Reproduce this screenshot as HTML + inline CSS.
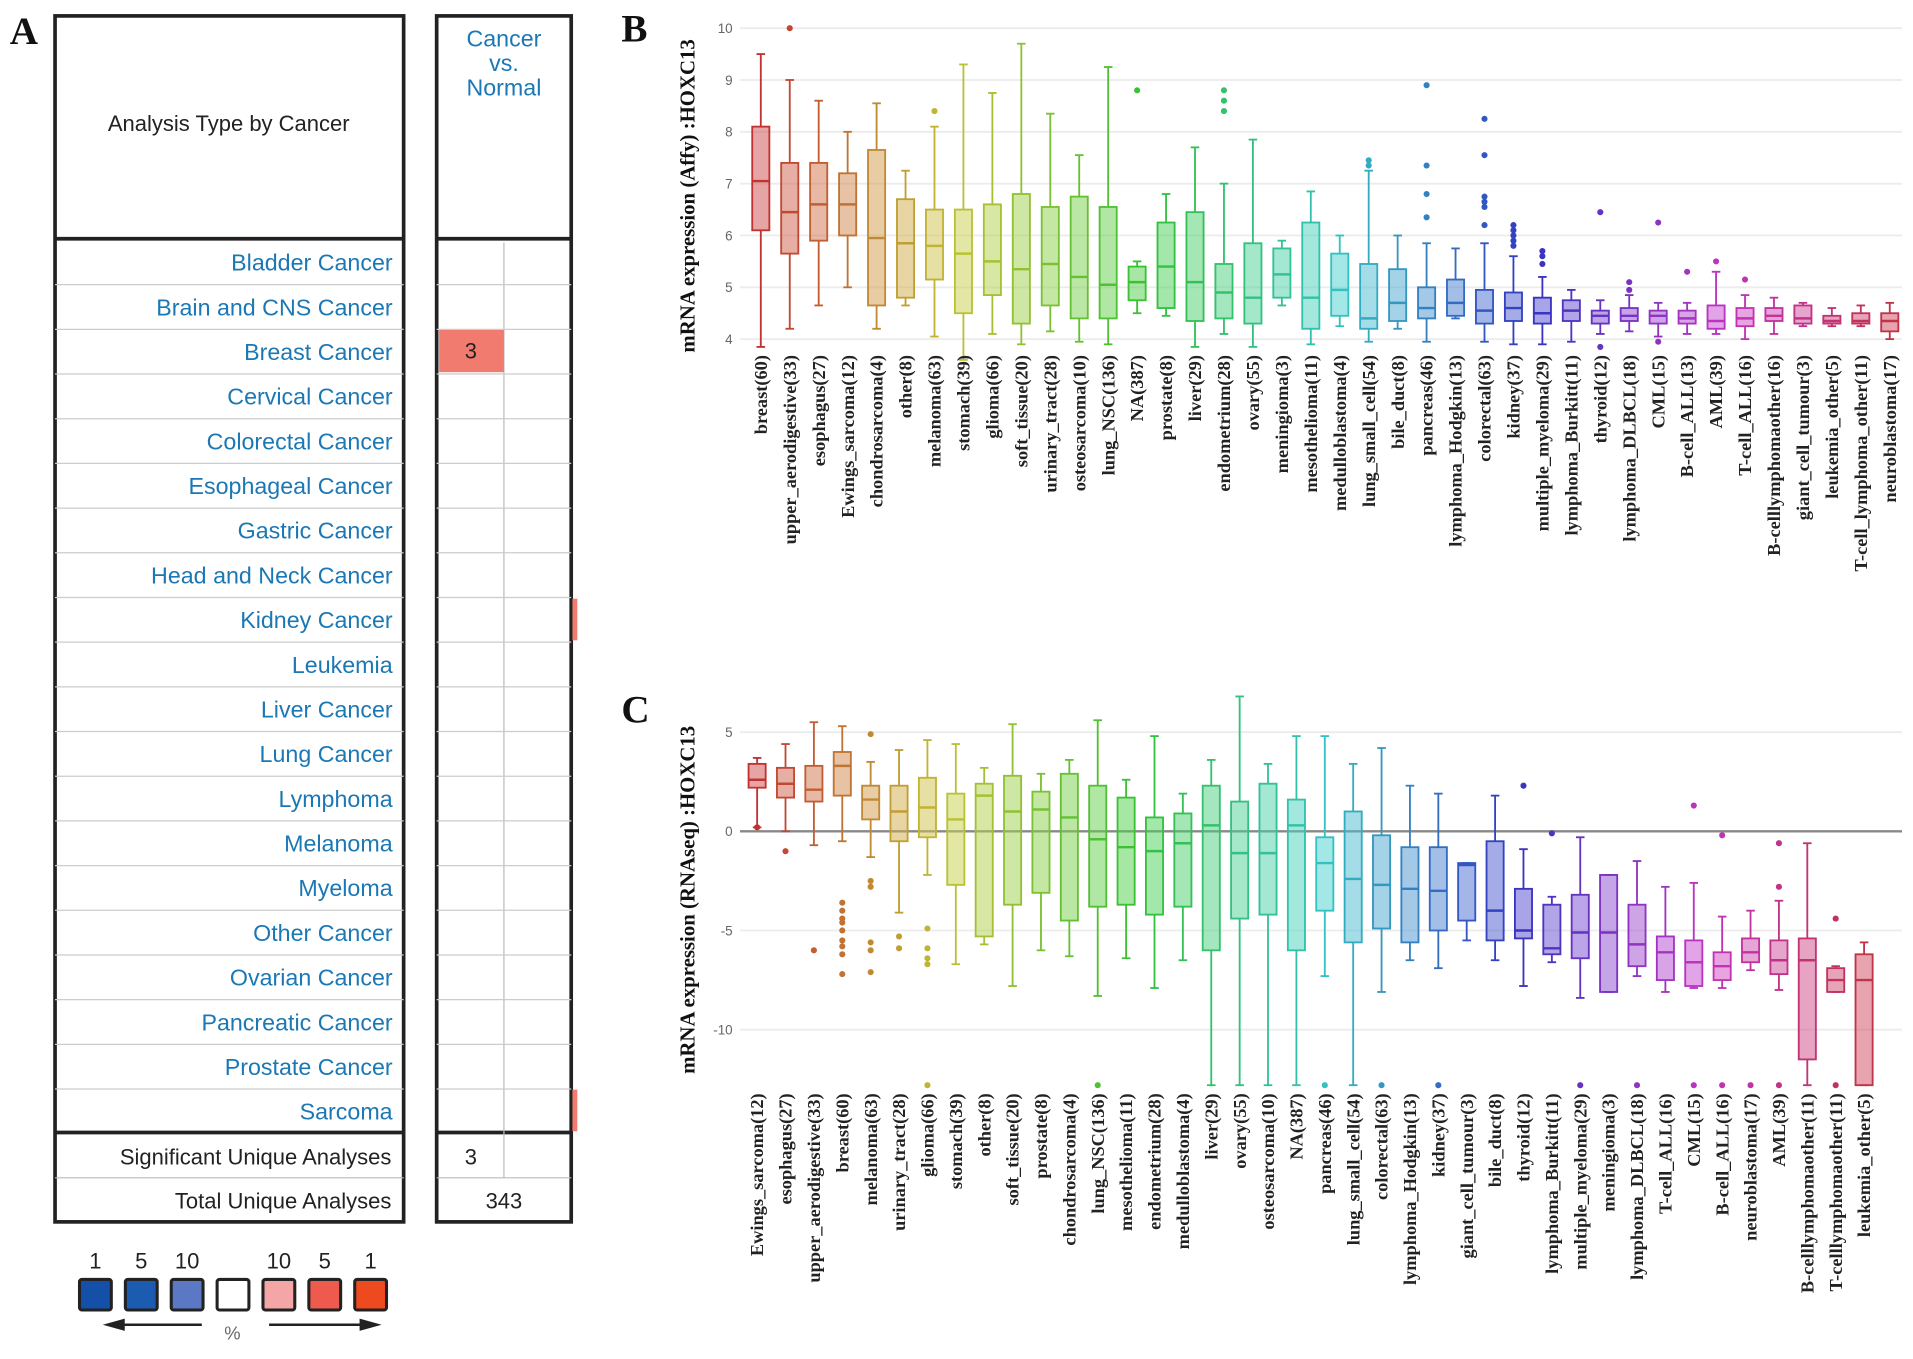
<!DOCTYPE html>
<html><head><meta charset="utf-8"><style>
html,body{margin:0;padding:0;background:#fff;}
svg{display:block;}
.cl{font-family:"Liberation Sans",sans-serif;font-size:19px;fill:#1b78b4;}
.xl{font-family:"Liberation Serif",serif;font-weight:bold;font-size:15px;fill:#222;}
.tk{font-family:"Liberation Sans",sans-serif;font-size:11px;fill:#666;}
.yt{font-family:"Liberation Serif",serif;font-weight:bold;font-size:17px;fill:#111;}
.pl{font-family:"Liberation Serif",serif;font-weight:bold;font-size:32px;fill:#111;}
.tb{font-family:"Liberation Sans",sans-serif;font-size:18px;fill:#222;}
</style></head><body>
<svg id="fig" width="1913" height="1359" viewBox="0 0 1564 1110" preserveAspectRatio="none" xmlns="http://www.w3.org/2000/svg">
<g id="panelA">
<text class="pl" x="8" y="36">A</text>
<rect x="45" y="13" width="285" height="985" fill="none" stroke="#222" stroke-width="3"/>
<rect x="357" y="13" width="110" height="985" fill="none" stroke="#222" stroke-width="3"/>
<line x1="45" y1="195" x2="330" y2="195" stroke="#222" stroke-width="3"/>
<line x1="357" y1="195" x2="467" y2="195" stroke="#222" stroke-width="3"/>
<line x1="45" y1="925" x2="330" y2="925" stroke="#222" stroke-width="3"/>
<line x1="357" y1="925" x2="467" y2="925" stroke="#222" stroke-width="3"/>
<line x1="412" y1="198" x2="412" y2="962" stroke="#bbb" stroke-width="1"/>
<text x="187" y="107" text-anchor="middle" class="tb">Analysis Type by Cancer</text>
<text x="412" y="38" text-anchor="middle" class="cl">Cancer</text>
<text x="412" y="58" text-anchor="middle" class="cl">vs.</text>
<text x="412" y="78" text-anchor="middle" class="cl">Normal</text>
<rect x="359" y="269" width="53" height="35" fill="#f27b70"/>
<text x="385" y="293" text-anchor="middle" class="tb">3</text>
<rect x="468" y="489" width="4" height="34" fill="#f27b70"/>
<rect x="468" y="890" width="4" height="34" fill="#f27b70"/>
<line x1="45" y1="962" x2="330" y2="962" stroke="#bbb"/>
<line x1="357" y1="962" x2="467" y2="962" stroke="#bbb"/>
<text x="320" y="951" text-anchor="end" class="tb">Significant Unique Analyses</text>
<text x="385" y="951" text-anchor="middle" class="tb">3</text>
<text x="320" y="987" text-anchor="end" class="tb">Total Unique Analyses</text>
<text x="412" y="987" text-anchor="middle" class="tb">343</text>
<g id="rows"></g>
<g>
<g id="legbox"></g>
<line x1="100" y1="1082" x2="165" y2="1082" stroke="#222" stroke-width="2"/>
<polygon points="84,1082 102,1077 102,1087" fill="#222"/>
<line x1="220" y1="1082" x2="295" y2="1082" stroke="#222" stroke-width="2"/>
<polygon points="312,1082 294,1077 294,1087" fill="#222"/>
<text x="190" y="1094" text-anchor="middle" class="tb" style="font-size:15px;fill:#666">%</text>
</g>
</g>
<g id="panelB">
<text class="pl" x="508" y="34">B</text>
<text class="yt" transform="translate(568,160) rotate(-90)" text-anchor="middle">mRNA expression (Affy) :HOXC13</text>
</g>
<g id="panelC">
<text class="pl" x="508" y="590">C</text>
<text class="yt" transform="translate(568,735) rotate(-90)" text-anchor="middle">mRNA expression (RNAseq) :HOXC13</text>
</g>
</svg>
<script>
const NS="http://www.w3.org/2000/svg";
const cancers=["Bladder Cancer","Brain and CNS Cancer","Breast Cancer","Cervical Cancer","Colorectal Cancer","Esophageal Cancer","Gastric Cancer","Head and Neck Cancer","Kidney Cancer","Leukemia","Liver Cancer","Lung Cancer","Lymphoma","Melanoma","Myeloma","Other Cancer","Ovarian Cancer","Pancreatic Cancer","Prostate Cancer","Sarcoma"];
const legendLabels=["1","5","10","","10","5","1"];
const legendColors=["#1550a8","#1b5cb0","#5a78c4","#ffffff","#f4a6a6","#ee5a4e","#ee4a20"];

const catsB=["breast(60)","upper_aerodigestive(33)","esophagus(27)","Ewings_sarcoma(12)","chondrosarcoma(4)","other(8)","melanoma(63)","stomach(39)","glioma(66)","soft_tissue(20)","urinary_tract(28)","osteosarcoma(10)","lung_NSC(136)","NA(387)","prostate(8)","liver(29)","endometrium(28)","ovary(55)","meningioma(3)","mesothelioma(11)","medulloblastoma(4)","lung_small_cell(54)","bile_duct(8)","pancreas(46)","lymphoma_Hodgkin(13)","colorectal(63)","kidney(37)","multiple_myeloma(29)","lymphoma_Burkitt(11)","thyroid(12)","lymphoma_DLBCL(18)","CML(15)","B-cell_ALL(13)","AML(39)","T-cell_ALL(16)","B-celllymphomaother(16)","giant_cell_tumour(3)","leukemia_other(5)","T-cell_lymphoma_other(11)","neuroblastoma(17)"];
const boxesB=[[3.85,6.1,7.05,8.1,9.5],[4.2,5.65,6.45,7.4,9.0],[4.65,5.9,6.6,7.4,8.6],[5.0,6.0,6.6,7.2,8.0],[4.2,4.65,5.95,7.65,8.55],[4.65,4.8,5.85,6.7,7.25],[4.05,5.15,5.8,6.5,8.1],[3.6,4.5,5.65,6.5,9.3],[4.1,4.85,5.5,6.6,8.75],[3.9,4.3,5.35,6.8,9.7],[4.15,4.65,5.45,6.55,8.35],[3.95,4.4,5.2,6.75,7.55],[3.9,4.4,5.05,6.55,9.25],[4.5,4.75,5.1,5.4,5.5],[4.45,4.6,5.4,6.25,6.8],[3.85,4.35,5.1,6.45,7.7],[4.1,4.4,4.9,5.45,7.0],[3.85,4.3,4.8,5.85,7.85],[4.65,4.8,5.25,5.75,5.9],[3.9,4.2,4.8,6.25,6.85],[4.25,4.45,4.95,5.65,6.0],[3.95,4.2,4.4,5.45,7.25],[4.2,4.35,4.7,5.35,6.0],[3.95,4.4,4.6,5.0,5.85],[4.4,4.45,4.7,5.15,5.75],[3.95,4.3,4.55,4.95,5.85],[3.9,4.35,4.6,4.9,5.6],[3.9,4.3,4.5,4.8,5.2],[3.95,4.35,4.55,4.75,4.95],[4.1,4.3,4.45,4.55,4.75],[4.15,4.35,4.45,4.6,4.85],[4.05,4.3,4.45,4.55,4.7],[4.1,4.3,4.4,4.55,4.7],[4.1,4.2,4.35,4.65,5.3],[4.0,4.25,4.4,4.6,4.85],[4.1,4.35,4.45,4.6,4.8],[4.25,4.3,4.4,4.65,4.7],[4.25,4.3,4.35,4.45,4.6],[4.25,4.3,4.35,4.5,4.65],[4.0,4.15,4.35,4.5,4.7]];
const outliersB=[[],[10.0],[],[],[],[],[8.4],[],[],[],[],[],[],[8.8],[],[],[8.4,8.6,8.8],[],[],[],[],[7.35,7.45],[],[6.35,6.8,7.35,8.9],[],[6.2,6.55,6.65,6.75,7.55,8.25],[5.8,5.9,6.0,6.1,6.2],[5.45,5.6,5.7],[],[3.85,6.45],[4.95,5.1],[3.95,6.25],[5.3],[5.5],[5.15],[],[],[],[],[]];
const ticksB=[4,5,6,7,8,9,10];

const catsC=["Ewings_sarcoma(12)","esophagus(27)","upper_aerodigestive(33)","breast(60)","melanoma(63)","urinary_tract(28)","glioma(66)","stomach(39)","other(8)","soft_tissue(20)","prostate(8)","chondrosarcoma(4)","lung_NSC(136)","mesothelioma(11)","endometrium(28)","medulloblastoma(4)","liver(29)","ovary(55)","osteosarcoma(10)","NA(387)","pancreas(46)","lung_small_cell(54)","colorectal(63)","lymphoma_Hodgkin(13)","kidney(37)","giant_cell_tumour(3)","bile_duct(8)","thyroid(12)","lymphoma_Burkitt(11)","multiple_myeloma(29)","meningioma(3)","lymphoma_DLBCL(18)","T-cell_ALL(16)","CML(15)","B-cell_ALL(16)","neuroblastoma(17)","AML(39)","B-celllymphomaother(11)","T-celllymphomaother(11)","leukemia_other(5)"];
const boxesC=[[0.2,2.2,2.6,3.4,3.7],[0,1.7,2.4,3.2,4.4],[-0.7,1.5,2.1,3.3,5.5],[-0.5,1.8,3.3,4.0,5.3],[-1.3,0.6,1.6,2.3,3.5],[-4.1,-0.5,1.0,2.3,4.1],[-2.2,-0.3,1.2,2.7,4.6],[-6.7,-2.7,0.6,1.9,4.4],[-5.7,-5.3,1.8,2.4,3.2],[-7.8,-3.7,1.0,2.8,5.4],[-6.0,-3.1,1.1,2.0,2.9],[-6.3,-4.5,0.7,2.9,3.6],[-8.3,-3.8,-0.4,2.3,5.6],[-6.4,-3.7,-0.8,1.7,2.6],[-7.9,-4.2,-1.0,0.7,4.8],[-6.5,-3.8,-0.6,0.9,1.9],[-12.8,-6.0,0.3,2.3,3.6],[-12.8,-4.4,-1.1,1.5,6.8],[-12.8,-4.2,-1.1,2.4,3.4],[-12.8,-6.0,0.3,1.6,4.8],[-7.3,-4.0,-1.6,-0.3,4.8],[-12.8,-5.6,-2.4,1.0,3.4],[-8.1,-4.9,-2.7,-0.2,4.2],[-6.5,-5.6,-2.9,-0.8,2.3],[-6.9,-5.0,-3.0,-0.8,1.9],[-5.5,-4.5,-1.7,-1.6,-1.6],[-6.5,-5.5,-4.0,-0.5,1.8],[-7.8,-5.4,-5.0,-2.9,-0.9],[-6.6,-6.2,-5.9,-3.7,-3.3],[-8.4,-6.4,-5.1,-3.2,-0.3],[-8.1,-8.1,-5.1,-2.2,-2.2],[-7.3,-6.8,-5.7,-3.7,-1.5],[-8.1,-7.5,-6.1,-5.3,-2.8],[-7.9,-7.8,-6.6,-5.5,-2.6],[-7.9,-7.5,-6.8,-6.1,-4.3],[-7.0,-6.6,-6.1,-5.4,-4.0],[-8.0,-7.2,-6.5,-5.5,-3.5],[-12.8,-11.5,-6.5,-5.4,-0.6],[-8.1,-8.1,-7.5,-6.9,-6.8],[-12.8,-12.8,-7.5,-6.2,-5.6]];
const outliersC=[[0.2],[-1.0],[-6.0],[-3.6,-4.0,-4.4,-4.6,-5.0,-5.5,-5.8,-6.2,-7.2],[4.9,-2.5,-2.8,-5.6,-6.0,-7.1],[-5.3,-5.9],[-4.9,-5.9,-6.4,-6.7,-12.8],[],[],[],[],[],[-12.8],[],[],[],[],[],[],[],[-12.8],[],[-12.8],[],[-12.8],[],[],[2.3],[-0.1],[-12.8],[],[-12.8],[],[1.3,-12.8],[-0.2,-12.8],[-12.8],[-0.6,-2.8,-12.8],[],[-4.4,-12.8],[]];
const ticksC=[-10,-5,0,5];

function mk(tag,attrs,parent){const e=document.createElementNS(NS,tag);for(const k in attrs)e.setAttribute(k,attrs[k]);parent.appendChild(e);return e;}

// table rows
const rows=document.getElementById('rows');
cancers.forEach((c,i)=>{
  const y0=196+i*36.5;
  if(i>0){mk('line',{x1:45,y1:y0,x2:330,y2:y0,stroke:'#ccc'},rows);mk('line',{x1:357,y1:y0,x2:467,y2:y0,stroke:'#ccc'},rows);}
  const t=mk('text',{x:321,y:y0+25,'text-anchor':'end',class:'cl'},rows);
  
  
  t.textContent=c;
});
const lb=document.getElementById('legbox');
legendColors.forEach((col,i)=>{
  const x=65+i*37.5;
  const r=mk('rect',{x:x,y:1045,width:26,height:25,fill:col,stroke:'#222','stroke-width':2.5,rx:2},lb);
  
  
  const t=mk('text',{x:x+13,y:1036,'text-anchor':'middle',class:'tb'},lb);
  t.textContent=legendLabels[i];
});

function boxChart(g,cats,boxes,outs,ticks,cfg){
  const yS=v=>cfg.y0+(v-cfg.v0)*(cfg.y1-cfg.y0)/(cfg.v1-cfg.v0);
  const xS=i=>cfg.x0+i*(cfg.x1-cfg.x0)/(cats.length-1);
  ticks.forEach(t=>{
    mk('line',{x1:cfg.gx0,x2:cfg.gx1,y1:yS(t),y2:yS(t),stroke:t===0?'#888':'#ececec','stroke-width':t===0?2:1.5},g);
    const tx=mk('text',{x:cfg.gx0-6,y:yS(t)+4,'text-anchor':'end',class:'tk'},g);
    
    
    tx.textContent=t;
  });
  const n=cats.length;
  cats.forEach((c,i)=>{
    const h=i*351/(n-1);
    const col=`hsl(${h},58%,48%)`;
    const x=xS(i),w=7;
    const b=boxes[i];
    const bg=mk('g',{},g);
    
    
    mk('line',{x1:x,x2:x,y1:yS(b[0]),y2:yS(b[1]),stroke:col,'stroke-width':1.5},bg);
    mk('line',{x1:x,x2:x,y1:yS(b[3]),y2:yS(b[4]),stroke:col,'stroke-width':1.5},bg);
    mk('line',{x1:x-3.5,x2:x+3.5,y1:yS(b[0]),y2:yS(b[0]),stroke:col,'stroke-width':1.5},bg);
    mk('line',{x1:x-3.5,x2:x+3.5,y1:yS(b[4]),y2:yS(b[4]),stroke:col,'stroke-width':1.5},bg);
    mk('rect',{x:x-w,y:yS(b[3]),width:2*w,height:Math.max(1,yS(b[1])-yS(b[3])),fill:`hsla(${h},58%,55%,0.5)`,stroke:col,'stroke-width':1.5},bg);
    mk('line',{x1:x-w,x2:x+w,y1:yS(b[2]),y2:yS(b[2]),stroke:col,'stroke-width':2},bg);
    outs[i].forEach(o=>mk('circle',{cx:x,cy:yS(o),r:2.5,fill:col},bg));
    const t=mk('text',{transform:`translate(${x+5},${cfg.ly}) rotate(-90)`,'text-anchor':'end',class:'xl'},g);
    
    
    t.textContent=c;
  });
}
boxChart(document.getElementById('panelB'),catsB,boxesB,outliersB,ticksB,{v0:4,y0:277,v1:10,y1:23,x0:622,x1:1545,gx0:605,gx1:1555,ly:290});
boxChart(document.getElementById('panelC'),catsC,boxesC,outliersC,ticksC,{v0:0,y0:679,v1:-10,y1:841,x0:619,x1:1524,gx0:605,gx1:1555,ly:893});
</script>
</body></html>
